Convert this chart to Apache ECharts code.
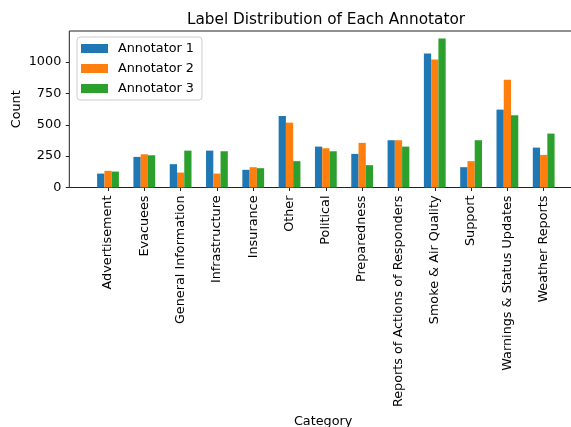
<!DOCTYPE html>
<html>
<head>
<meta charset="utf-8">
<script src="https://cdn.jsdelivr.net/npm/echarts@6/dist/echarts.min.js"></script>
<style>
html,body{margin:0;padding:0;background:#fff;}
#chart{width:571px;height:427px;}
</style>
</head>
<body>
<div id="chart"></div>
<script>
const categories = ["Advertisement","Evacuees","General Information","Infrastructure","Insurance","Other","Political","Preparedness","Reports of Actions of Responders","Smoke & Air Quality","Support","Warnings & Status Updates","Weather Reports"];
const annotator1 = [111, 244, 186, 294, 141, 570, 326, 268, 377, 1069, 162, 621, 318];
const annotator2 = [133, 265, 119, 111, 162, 517, 313, 356, 377, 1021, 210, 860, 260];
const annotator3 = [127, 257, 294, 289, 154, 210, 289, 178, 326, 1189, 377, 576, 430];
const seriesNames = ["Annotator 1","Annotator 2","Annotator 3"];
const colors = ["#1f77b4","#ff7f0e","#2ca02c"];
const yMax = 1248;

const font = "DejaVu Sans";
const fs = 12.8;
const chart = echarts.init(document.getElementById('chart'), null, {renderer:'canvas'});
const vals = [annotator1, annotator2, annotator3];
chart.setOption({
  animation:false,
  backgroundColor:'#fff',
  color: colors,
  title:{
    text:'Label Distribution of Each Annotator',
    left:321, top:8, textAlign:'center',
    textStyle:{fontFamily:font, fontSize:15.3, fontWeight:'normal', color:'#000'}
  },
  legend:{
    orient:'vertical', left:77, top:37,
    data: seriesNames,
    itemWidth:27, itemHeight:9, itemGap:7,
    padding:[5,8,5,4],
    backgroundColor:'rgba(255,255,255,0.8)', borderColor:'#ccc', borderWidth:1, borderRadius:3,
    textStyle:{fontFamily:font, fontSize:fs, color:'#000', padding:[0,0,0,5]},
    icon:'rect'
  },
  grid:[
    {left:69.3, right:-6, top:31, bottom:239.5, show:true, borderColor:'#222', borderWidth:1, backgroundColor:'transparent', containLabel:false, outerBoundsMode:'none'},
    {left:89.85, right:9.15, top:31, bottom:239.5, containLabel:false, outerBoundsMode:'none'}
  ],
  xAxis:[
    {type:'value', gridIndex:0, min:0, max:1, show:true,
     axisLine:{show:false}, axisTick:{show:false}, axisLabel:{show:false}, splitLine:{show:false},
     name:'Category', nameLocation:'middle', nameGap:228, nameMoveOverlap:false,
     nameTextStyle:{fontFamily:font, fontSize:fs, color:'#000'}},
    {type:'category', gridIndex:1, data:categories,
     axisLine:{show:false},
     axisTick:{show:true, alignWithLabel:true, length:3.5, lineStyle:{color:'#222'}},
     axisLabel:{rotate:90, interval:0, margin:8, fontFamily:font, fontSize:fs, color:'#000'},
     splitLine:{show:false}}
  ],
  yAxis:[
    {type:'value', gridIndex:0, min:0, max:yMax, interval:250,
     axisLine:{show:false},
     axisTick:{show:true, length:3.5, lineStyle:{color:'#222'}},
     axisLabel:{margin:8, fontFamily:font, fontSize:fs, color:'#000', showMaxLabel:false,
       formatter: v => (v % 250 === 0 ? String(v) : '')},
     splitLine:{show:false},
     name:'Count', nameLocation:'middle', nameGap:46, nameRotate:90, nameMoveOverlap:false,
     nameTextStyle:{fontFamily:font, fontSize:fs, color:'#000'}},
    {type:'value', gridIndex:1, min:0, max:yMax, show:false}
  ],
  series: vals.map((d,i)=>({
    name: seriesNames[i], type:'bar', xAxisIndex:1, yAxisIndex:1,
    data:d, barWidth:'20%', barGap:'0%', barCategoryGap:'40%',
    itemStyle:{color:colors[i]}
  }))
});
</script>
</body>
</html>
